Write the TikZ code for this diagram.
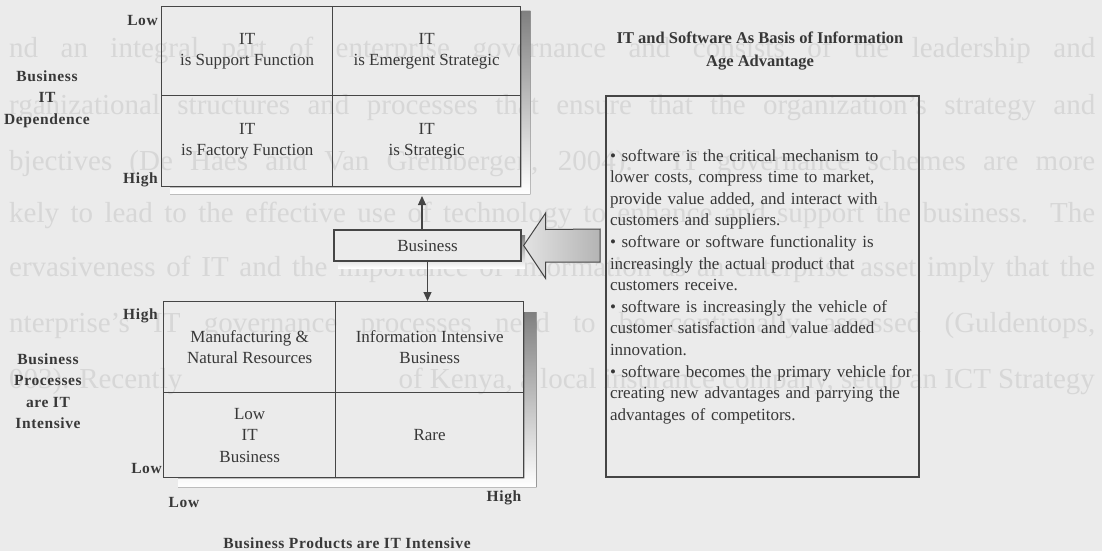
\documentclass[tikz,border=0pt]{standalone}
\usepackage{fontspec}
\setmainfont{Liberation Serif}
\newfontfamily\axisfont[LetterSpace=4]{Liberation Serif}
\usetikzlibrary{calc,arrows.meta}
\definecolor{paper}{HTML}{EBEBEB}
\definecolor{ink}{HTML}{383838}
\definecolor{rule}{HTML}{454545}
\definecolor{ghost}{HTML}{D7D7D7}
\definecolor{shade}{HTML}{8E8E8E}
\definecolor{arrowlight}{HTML}{E2E2E2}
\definecolor{arrowdark}{HTML}{B4B4B4}
\begin{document}
\begin{tikzpicture}[x=1pt,y=-1pt,
  cell/.style={draw=rule, line width=1.3pt, inner sep=0pt, align=center,
    text=ink, font=\fontsize{17}{21.5}\selectfont},
  axis/.style={text=ink, font=\axisfont\fontsize{15.5}{21.5}\selectfont\bfseries,
    inner sep=0pt, align=center},
  ghosttext/.style={text=ghost, font=\fontsize{29}{33}\selectfont,
    anchor=base west, inner sep=0pt},
  link/.style={draw=rule, line width=1.1pt, -{Triangle[length=9pt,width=8pt]}},
]
% page
\fill[paper] (0,0) rectangle (1102,551);
\useasboundingbox (0,0) rectangle (1102,551);

% running text of the page, showing through
\node[ghosttext] (g1) at (9,58)  {\makebox[1086pt][s]{nd an integral part of enterprise governance and consists of the leadership and}};
\node[ghosttext] (g2) at (9,114) {\makebox[1086pt][s]{rganizational structures and processes that ensure that the organization's strategy and}};
\node[ghosttext] (g3) at (9,170) {\makebox[1086pt][s]{bjectives (De Haes and Van Grembergen, 2004). IT governance schemes are more}};
\node[ghosttext] (g4) at (9,222) {\makebox[1086pt][s]{kely to lead to the effective use of technology to enhance and support the business. The}};
\node[ghosttext] (g5) at (9,276) {\makebox[1086pt][s]{ervasiveness of IT and the importance of information as an enterprise asset imply that the}};
\node[ghosttext] (g6) at (9,332) {\makebox[1086pt][s]{nterprise's IT governance processes need to be continually assessed (Guldentops,}};
\node[ghosttext] (g7) at (9,388) {003). Recently};
\node[ghosttext, anchor=base east] (g7b) at (1095,388) {of Kenya, a local insurance company, setup an ICT Strategy};

% ---- upper matrix: business IT dependence ----
\node[cell, anchor=north west, minimum width=171, minimum height=89] (utl) at (161,6)
  {IT\\is Support Function};
\node[cell, anchor=north west, minimum width=188, minimum height=89] (utr) at (332,6)
  {IT\\is Emergent Strategic};
\node[cell, anchor=north west, minimum width=171, minimum height=91] (ubl) at (161,95)
  {IT\\is Factory Function};
\node[cell, anchor=north west, minimum width=188, minimum height=91] (ubr) at (332,95)
  {IT\\is Strategic};
\fill[shade] ($(utl.north west -| ubr.east)+(0,5)$) -- ++(9,0)
  -- ($(ubr.south east)+(9,7)$) -- ($(ubl.south west)+(9,7)$) -- ++(0,-7)
  -- (ubr.south east) -- cycle;

\node[axis, anchor=east] (ulow) at (158,21) {Low};
\node[axis, anchor=east] (uhigh) at (158,180) {High};
\node[axis] (uaxis) at (47,99) {Business\\IT\\Dependence};

% ---- lower matrix: processes and products ----
\node[cell, anchor=north west, minimum width=172, minimum height=91] (ltl) at (163,301)
  {Manufacturing \&\\Natural Resources};
\node[cell, anchor=north west, minimum width=188, minimum height=91] (ltr) at (335,301)
  {Information Intensive\\Business};
\node[cell, anchor=north west, minimum width=172, minimum height=85] (lbl) at (163,392)
  {Low\\IT\\Business};
\node[cell, anchor=north west, minimum width=188, minimum height=85] (lbr) at (335,392)
  {Rare};
\fill[shade] ($(ltl.north west -| lbr.east)+(0,11)$) -- ++(12,0)
  -- ($(lbr.south east)+(12,9)$) -- ($(lbl.south west)+(15,9)$) -- ++(0,-9)
  -- (lbr.south east) -- cycle;

\node[axis, anchor=east] (lhigh) at (158,316) {High};
\node[axis, anchor=east] (llow) at (162,468) {Low};
\node[axis] (lxlow) at (184,502) {Low};
\node[axis] (lxhigh) at (504,498) {High};
\node[axis] (laxis) at (48,391) {Business\\Processes\\are IT\\Intensive};
\node[axis] (xaxis) at (347,543) {Business Products are IT Intensive};

% ---- business box between the matrices ----
\fill[shade] (338,235) rectangle (525,268);
\node[draw=rule, line width=1.3pt, fill=paper, minimum width=187, minimum height=31,
  inner sep=0pt, text=ink, font=\fontsize{17}{21}\selectfont] (biz) at (427.5,245.5) {Business};

\coordinate (upend) at (422,196);
\draw[link] (biz.north -| upend) -- (upend);
\draw[link] (biz.south) -- (biz.south |- ltr.north);

% ---- information age advantage ----
\node[text=ink, font=\fontsize{16.5}{23}\selectfont\bfseries, align=center] (title) at (760,51)
  {IT and Software As Basis of Information\\Age Advantage};

\node[draw=rule, line width=1.6pt, minimum width=313, minimum height=381,
  text width=305, inner xsep=4pt, align=left, text=ink,
  font=\fontsize{17}{21.6}\selectfont] (tb) at (762.5,286.5)
  {• software is the critical mechanism to\\
   lower costs, compress time to market,\\
   provide value added, and interact with\\
   customers and suppliers.\\
   • software or software functionality is\\
   increasingly the actual product that\\
   customers receive.\\
   • software is increasingly the vehicle of\\
   customer satisfaction and value added\\
   innovation.\\
   • software becomes the primary vehicle for\\
   creating new advantages and parrying the\\
   advantages of competitors.};

% block arrow from the advantage box into the business box
\draw[rule, line width=1pt, left color=arrowlight, right color=arrowdark]
  ($(biz.east)+(2,0)$) -- ++(22,-32.5) -- ++(0,16.5)
  -- ($(biz.east -| tb.west)+(-5,-16.5)$) -- ($(biz.east -| tb.west)+(-5,16.5)$)
  -- ($(biz.east)+(24,16.5)$) -- ++(0,16.5) -- cycle;
\end{tikzpicture}
\end{document}
